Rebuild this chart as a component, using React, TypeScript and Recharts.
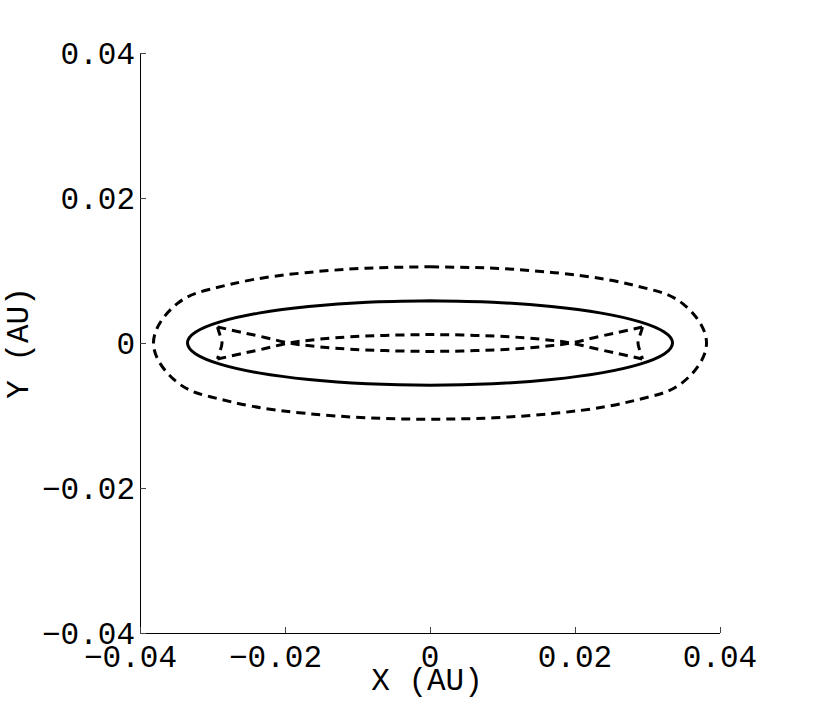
import React from 'react';
import { ScatterChart, Scatter, XAxis, YAxis } from 'recharts';

// Axis ticks
const tickValues = [-0.04, -0.02, 0, 0.02, 0.04];
const tickLabels = ['\u22120.04', '\u22120.02', '0', '0.02', '0.04'];

// Solid closed curve (starting at top, clockwise)
const solidX = [0, 0.00866, 0.01673, 0.02365, 0.02897, 0.03231, 0.03345, 0.03231, 0.02897, 0.02365, 0.01673, 0.00866, 0,
  -0.00866, -0.01673, -0.02365, -0.02897, -0.03231, -0.03345, -0.03231, -0.02897, -0.02365, -0.01673, -0.00866, 0];
const solidY = [0.00582, 0.00562, 0.00504, 0.00412, 0.00291, 0.00151, 0, -0.00151, -0.00291, -0.00412, -0.00504, -0.00562, -0.00582,
  -0.00562, -0.00504, -0.00412, -0.00291, -0.00151, 0, 0.00151, 0.00291, 0.00412, 0.00504, 0.00562, 0.00582];

// Outer dashed closed curve
const outerX = [0, 0.00887, 0.01719, 0.02446, 0.03032, 0.03486, 0.03814, 0.03486, 0.03032, 0.02446, 0.01719, 0.00887, 0,
  -0.00887, -0.01719, -0.02446, -0.03032, -0.03486, -0.03814, -0.03486, -0.03032, -0.02446, -0.01719, -0.00887, 0];
const outerY = [0.01051, 0.01031, 0.0097, 0.00874, 0.00741, 0.00543, 0, -0.00543, -0.00741, -0.00874, -0.0097, -0.01031, -0.01051,
  -0.01031, -0.0097, -0.00874, -0.00741, -0.00543, 0, 0.00543, 0.00741, 0.00874, 0.0097, 0.01031, 0.01051];

// Inner dashed caustic: two crossing strands
const strandX = [-0.02931, -0.02621, -0.02276, -0.01945, -0.01655, -0.0131, -0.00897, -0.00441, 0,
  0.00441, 0.00897, 0.0131, 0.01655, 0.01945, 0.02276, 0.02621, 0.02931];
const strandLowY = [0.00221, 0.00152, 0.00076, 0, -0.00039, -0.00072, -0.00095, -0.0011, -0.00116,
  -0.0011, -0.00095, -0.00072, -0.00039, 0, 0.00076, 0.00152, 0.00221];
const strandHighY = [-0.00221, -0.00152, -0.00076, 0, 0.00039, 0.00072, 0.00095, 0.0011, 0.00116,
  0.0011, 0.00095, 0.00072, 0.00039, 0, -0.00076, -0.00152, -0.00221];
// Inner dashed short end arcs
const leftArcX = [-0.02931, -0.02897, -0.02869, -0.02897, -0.02931];
const rightArcX = [0.02931, 0.02897, 0.02869, 0.02897, 0.02931];
const arcY = [0.00221, 0.0011, 0, -0.0011, -0.00221];

const zip = (xs: number[], ys: number[]) => xs.map((x, i) => ({ x, y: ys[i] }));

const FONT = '"Liberation Mono", "Courier New", monospace';
const FS = 31;

const EmptyShape = () => <g />;

const labelOf = (v: number) => tickLabels[tickValues.indexOf(v)] ?? String(v);

const BottomTick = (props: any) => {
  const { x, y, payload } = props;
  const v = payload.value;
  return (
    <g>
      <line x1={x} x2={x} y1={y} y2={y - 6} stroke="#444" shapeRendering="crispEdges" />
      <text x={v < 0 ? x - 9.5 : x} y={y + 34} textAnchor="middle" fontFamily={FONT} fontSize={FS} fill="#000">
        {labelOf(v)}
      </text>
    </g>
  );
};

const LeftTick = (props: any) => {
  const { x, y, payload } = props;
  return (
    <g>
      <line x1={x} x2={x + 6} y1={y} y2={y} stroke="#444" shapeRendering="crispEdges" />
      <text x={x - 5} y={y + 11} textAnchor="end" fontFamily={FONT} fontSize={FS} fill="#000">
        {labelOf(payload.value)}
      </text>
    </g>
  );
};

const TopTick = (props: any) => {
  const { x, y } = props;
  return <line x1={x} x2={x} y1={y} y2={y + 6} stroke="#444" shapeRendering="crispEdges" />;
};

const RightTick = (props: any) => {
  const { x, y } = props;
  return <line x1={x} x2={x - 6} y1={y} y2={y} stroke="#444" shapeRendering="crispEdges" />;
};

const XTitle = (props: any) => {
  const vb = props.viewBox;
  return (
    <text x={vb.x + vb.width / 2 - 3} y={vb.y + 57} textAnchor="middle" fontFamily={FONT} fontSize={FS} fill="#000">
      X (AU)
    </text>
  );
};

const YTitle = (props: any) => {
  const vb = props.viewBox;
  const cy = vb.y + vb.height / 2;
  return (
    <text x={28} y={cy} transform={`rotate(-90, 28, ${cy})`} textAnchor="middle" fontFamily={FONT} fontSize={FS} fill="#000">
      Y (AU)
    </text>
  );
};

const axisLine = { stroke: '#000', strokeWidth: 1, shapeRendering: 'crispEdges' };
const dashed = { stroke: '#000', strokeWidth: 3, strokeDasharray: '9 6', fill: 'none' };
const solid = { stroke: '#000', strokeWidth: 3, fill: 'none' };

export default function App() {
  return (
    <div style={{ position: 'absolute', left: 0, top: 0, width: 830, height: 713, background: '#fff' }}>
      <ScatterChart width={830} height={713} margin={{ top: 53, right: 110, bottom: 0, left: 0 }}>
        <XAxis
          xAxisId="b"
          type="number"
          dataKey="x"
          domain={[-0.04, 0.04]}
          ticks={tickValues}
          interval={0}
          allowDataOverflow
          height={80}
          tickSize={0}
          tickMargin={0}
          tickLine={false}
          axisLine={axisLine}
          tick={<BottomTick />}
          label={<XTitle />}
        />
        <XAxis
          xAxisId="t"
          orientation="top"
          type="number"
          dataKey="x"
          domain={[-0.04, 0.04]}
          ticks={tickValues}
          interval={0}
          allowDataOverflow
          height={0}
          tickSize={0}
          tickMargin={0}
          tickLine={false}
          axisLine={axisLine}
          tick={<TopTick />}
        />
        <YAxis
          yAxisId="l"
          type="number"
          dataKey="y"
          domain={[-0.04, 0.04]}
          ticks={tickValues}
          interval={0}
          allowDataOverflow
          width={140}
          tickSize={0}
          tickMargin={0}
          tickLine={false}
          axisLine={axisLine}
          tick={<LeftTick />}
          label={<YTitle />}
        />
        <YAxis
          yAxisId="r"
          orientation="right"
          type="number"
          dataKey="y"
          domain={[-0.04, 0.04]}
          ticks={tickValues}
          interval={0}
          allowDataOverflow
          width={0}
          tickSize={0}
          tickMargin={0}
          tickLine={false}
          axisLine={axisLine}
          tick={<RightTick />}
        />
        <Scatter xAxisId="b" yAxisId="l" data={zip(outerX, outerY)} line={dashed} lineJointType="natural" shape={<EmptyShape />} fill="#000" isAnimationActive={false} />
        <Scatter xAxisId="b" yAxisId="l" data={zip(solidX, solidY)} line={solid} lineJointType="natural" shape={<EmptyShape />} fill="#000" isAnimationActive={false} />
        <Scatter xAxisId="b" yAxisId="l" data={zip(strandX, strandLowY)} line={dashed} lineJointType="natural" shape={<EmptyShape />} fill="#000" isAnimationActive={false} />
        <Scatter xAxisId="b" yAxisId="l" data={zip(strandX, strandHighY)} line={dashed} lineJointType="natural" shape={<EmptyShape />} fill="#000" isAnimationActive={false} />
        <Scatter xAxisId="b" yAxisId="l" data={zip(leftArcX, arcY)} line={dashed} lineJointType="natural" shape={<EmptyShape />} fill="#000" isAnimationActive={false} />
        <Scatter xAxisId="b" yAxisId="l" data={zip(rightArcX, arcY)} line={dashed} lineJointType="natural" shape={<EmptyShape />} fill="#000" isAnimationActive={false} />
      </ScatterChart>
    </div>
  );
}
